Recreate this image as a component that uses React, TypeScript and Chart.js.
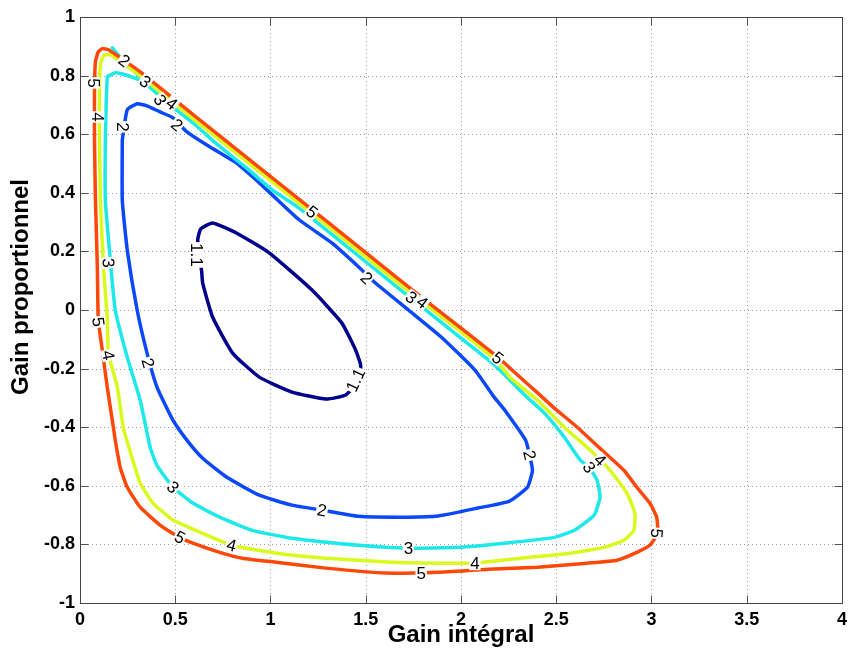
import React, { useEffect, useRef } from 'react';
import { Chart, registerables } from 'chart.js';

Chart.register(...registerables);

// ---------- axes ----------
const X_TICKS = [0, 0.5, 1, 1.5, 2, 2.5, 3, 3.5, 4];
const Y_TICKS = [-1, -0.8, -0.6, -0.4, -0.2, 0, 0.2, 0.4, 0.6, 0.8, 1];
const X_TITLE = 'Gain intégral';
const Y_TITLE = 'Gain proportionnel';

// ---------- contour levels ----------
const LEVELS = ['1.1', '2', '3', '4', '5'];

// level 1.1
const C11_X = [0.639, 0.618, 0.634, 0.696, 0.821, 0.993, 1.218, 1.374, 1.447, 1.473, 1.465, 1.395, 1.291, 1.113, 0.941, 0.801, 0.696, 0.644, 0.639];
const C11_Y = [0.130, 0.239, 0.277, 0.297, 0.263, 0.195, 0.068, -0.044, -0.137, -0.188, -0.239, -0.290, -0.304, -0.280, -0.229, -0.147, -0.024, 0.092, 0.130];

// level 2
const C2_X = [0.222, 0.248, 0.300, 0.352, 0.420, 0.488, 0.561, 0.681, 0.821, 0.941, 1.009, 1.150, 1.322, 1.463, 1.551, 1.724, 1.896, 2.073, 2.177, 2.229, 2.339, 2.360, 2.375, 2.349, 2.255, 2.088, 1.880, 1.724, 1.463, 1.270, 1.113, 0.941, 0.769, 0.644, 0.561, 0.488, 0.404, 0.352, 0.300, 0.248, 0.222, 0.222];
const C2_Y = [0.581, 0.683, 0.704, 0.697, 0.676, 0.656, 0.608, 0.557, 0.502, 0.434, 0.393, 0.308, 0.229, 0.147, 0.092, 0.000, -0.092, -0.205, -0.300, -0.341, -0.444, -0.495, -0.547, -0.605, -0.652, -0.676, -0.703, -0.707, -0.704, -0.683, -0.666, -0.632, -0.570, -0.506, -0.444, -0.376, -0.263, -0.147, 0.000, 0.205, 0.375, 0.581];

// level 3 (main loop and small spike at the top)
const C3_X = [0.143, 0.185, 0.237, 0.331, 0.472, 0.592, 0.717, 0.874, 1.009, 1.150, 1.358, 1.671, 2.000, 2.177, 2.334, 2.438, 2.542, 2.626, 2.673, 2.714, 2.730, 2.699, 2.595, 2.490, 2.229, 1.984, 1.724, 1.463, 1.113, 0.905, 0.733, 0.592, 0.488, 0.404, 0.368, 0.316, 0.248, 0.185, 0.159, 0.133, 0.133, 0.138, 0.143];
const C3_Y = [0.796, 0.810, 0.803, 0.779, 0.700, 0.639, 0.567, 0.485, 0.410, 0.348, 0.239, 0.075, -0.096, -0.188, -0.290, -0.352, -0.434, -0.512, -0.537, -0.581, -0.639, -0.700, -0.752, -0.776, -0.796, -0.810, -0.813, -0.803, -0.779, -0.752, -0.707, -0.659, -0.605, -0.530, -0.468, -0.308, -0.161, 0.000, 0.171, 0.376, 0.581, 0.717, 0.796];
const C3B_X = [0.169, 0.237, 0.331];
const C3B_Y = [0.895, 0.844, 0.786];

// level 4
const C4_X = [0.107, 0.102, 0.102, 0.107, 0.123, 0.159, 0.316, 0.628, 1.009, 1.358, 1.671, 2.000, 2.193, 2.261, 2.402, 2.542, 2.678, 2.782, 2.871, 2.913, 2.907, 2.855, 2.751, 2.574, 2.313, 2.073, 1.880, 1.635, 1.291, 1.030, 0.795, 0.628, 0.488, 0.383, 0.316, 0.253, 0.227, 0.196, 0.149, 0.143, 0.123, 0.107];
const C4_Y = [0.376, 0.581, 0.752, 0.837, 0.868, 0.871, 0.799, 0.635, 0.437, 0.256, 0.092, -0.075, -0.178, -0.232, -0.308, -0.400, -0.478, -0.547, -0.625, -0.694, -0.752, -0.786, -0.810, -0.830, -0.847, -0.864, -0.864, -0.861, -0.847, -0.830, -0.803, -0.758, -0.717, -0.659, -0.591, -0.461, -0.400, -0.263, -0.147, -0.024, 0.147, 0.376];

// level 5
const C5_X = [0.081, 0.076, 0.076, 0.081, 0.096, 0.117, 0.149, 0.316, 0.628, 1.009, 1.358, 1.671, 2.000, 2.193, 2.297, 2.402, 2.490, 2.610, 2.751, 2.855, 2.923, 2.991, 3.027, 3.032, 2.991, 2.923, 2.819, 2.662, 2.402, 2.141, 1.880, 1.604, 1.291, 1.030, 0.853, 0.733, 0.592, 0.524, 0.420, 0.316, 0.248, 0.211, 0.185, 0.175, 0.143, 0.117, 0.096, 0.091, 0.081];
const C5_Y = [0.376, 0.581, 0.752, 0.847, 0.881, 0.892, 0.888, 0.813, 0.649, 0.451, 0.270, 0.106, -0.062, -0.161, -0.222, -0.283, -0.335, -0.400, -0.485, -0.547, -0.605, -0.659, -0.707, -0.762, -0.803, -0.827, -0.854, -0.864, -0.878, -0.885, -0.895, -0.898, -0.881, -0.861, -0.847, -0.827, -0.796, -0.776, -0.734, -0.673, -0.605, -0.537, -0.444, -0.400, -0.263, -0.137, -0.034, 0.147, 0.376];

// ---------- inline contour labels ----------
const LABEL_TEXT = ['1.1', '1.1', '2', '2', '2', '2', '2', '2', '3', '3', '3', '3', '4', '5', '4', '5', '4', '5', '5', '4', '5', '4', '5', '5', '3', '4', '3', '3', '4', '2'];
const LABEL_X = [0.613, 1.447, 0.222, 0.509, 1.504, 2.360, 1.270, 0.357, 0.149, 0.488, 1.724, 2.673, 2.730, 3.027, 2.073, 1.791, 0.795, 0.524, 0.096, 0.149, 0.070, 0.091, 1.218, 2.193, 1.739, 1.797, 0.342, 0.420, 0.482, 0.232];
const LABEL_Y = [0.188, -0.239, 0.625, 0.632, 0.109, -0.495, -0.683, -0.181, 0.161, -0.605, -0.813, -0.537, -0.512, -0.762, -0.864, -0.898, -0.803, -0.776, -0.041, -0.154, 0.775, 0.659, 0.335, -0.164, 0.043, 0.026, 0.779, 0.717, 0.704, 0.851];
const LABEL_ANGLE = [90, -65, 90, 40, 43, 77, 10, 74, 84, 46, 0, 55, 45, 95, 0, 0, 15, 29, 82, 78, 90, 90, 38, 38, 38, 38, 38, 60, 38, 38];

// ---------- styles ----------
const COLORS: Record<string, string> = {
  '1.1': 'rgb(0,0,140)',
  '2': 'rgb(10,72,250)',
  '3': 'rgb(30,232,232)',
  '4': 'rgb(218,250,30)',
  '5': 'rgb(255,72,8)',
};
const FONT = "'Liberation Sans', Arial, Helvetica, sans-serif";

const pts = (xs: number[], ys: number[]) => xs.map((x, i) => ({ x, y: ys[i] }));
const fmt = (v: number) => String(Math.round(v * 10) / 10);

const matlabPlugin = {
  id: 'matlabDecor',
  beforeDatasetsDraw(chart: any) {
    const { ctx, chartArea: a, scales } = chart;
    const xs = scales.x, ys = scales.y;
    ctx.save();
    ctx.strokeStyle = '#9c9c9c';
    ctx.lineWidth = 1;
    ctx.setLineDash([1, 3]);
    X_TICKS.forEach((v) => {
      if (v <= X_TICKS[0] || v >= X_TICKS[X_TICKS.length - 1]) return;
      const px = Math.round(xs.getPixelForValue(v)) + 0.5;
      ctx.beginPath();
      ctx.moveTo(px, a.top);
      ctx.lineTo(px, a.bottom);
      ctx.stroke();
    });
    Y_TICKS.forEach((v) => {
      if (v <= Y_TICKS[0] || v >= Y_TICKS[Y_TICKS.length - 1]) return;
      const py = Math.round(ys.getPixelForValue(v)) + 0.5;
      ctx.beginPath();
      ctx.moveTo(a.left, py);
      ctx.lineTo(a.right, py);
      ctx.stroke();
    });
    ctx.restore();
  },
  afterDatasetsDraw(chart: any) {
    const { ctx, scales } = chart;
    ctx.save();
    ctx.font = `17px ${FONT}`;
    ctx.textAlign = 'center';
    ctx.textBaseline = 'middle';
    LABEL_TEXT.forEach((t, i) => {
      const px = scales.x.getPixelForValue(LABEL_X[i]);
      const py = scales.y.getPixelForValue(LABEL_Y[i]);
      ctx.save();
      ctx.translate(px, py);
      ctx.rotate((LABEL_ANGLE[i] * Math.PI) / 180);
      const w = ctx.measureText(t).width + 2;
      ctx.fillStyle = '#ffffff';
      ctx.fillRect(-w / 2, -7, w, 14);
      ctx.fillStyle = '#000000';
      ctx.fillText(t, 0, 1);
      ctx.restore();
    });
    ctx.restore();
  },
  afterDraw(chart: any) {
    const { ctx, chartArea: a, scales } = chart;
    const L = Math.round(a.left) + 0.5, R = Math.round(a.right) + 0.5;
    const T = Math.round(a.top) + 0.5, B = Math.round(a.bottom) + 0.5;
    ctx.save();
    // ticks (inside, all four sides)
    ctx.strokeStyle = '#555555';
    ctx.lineWidth = 1;
    const tl = 8;
    X_TICKS.forEach((v) => {
      const px = Math.round(scales.x.getPixelForValue(v)) + 0.5;
      ctx.beginPath();
      ctx.moveTo(px, B); ctx.lineTo(px, B - tl);
      ctx.moveTo(px, T); ctx.lineTo(px, T + tl);
      ctx.stroke();
    });
    Y_TICKS.forEach((v) => {
      const py = Math.round(scales.y.getPixelForValue(v)) + 0.5;
      ctx.beginPath();
      ctx.moveTo(L, py); ctx.lineTo(L + tl, py);
      ctx.moveTo(R, py); ctx.lineTo(R - tl, py);
      ctx.stroke();
    });
    // box
    ctx.strokeStyle = '#444444';
    ctx.strokeRect(L, T, R - L, B - T);
    // axis titles
    ctx.fillStyle = '#000000';
    ctx.font = `bold 24px ${FONT}`;
    ctx.textAlign = 'center';
    ctx.textBaseline = 'alphabetic';
    ctx.fillText(X_TITLE, (a.left + a.right) / 2, 642);
    ctx.translate(28, 287);
    ctx.rotate(-Math.PI / 2);
    ctx.fillText(Y_TITLE, 0, 0);
    ctx.restore();
  },
};

export default function App() {
  const ref = useRef<HTMLCanvasElement | null>(null);

  useEffect(() => {
    document.body.style.margin = '0';
    const canvas = ref.current;
    if (!canvas) return;

    const mk = (label: string, xs: number[], ys: number[], color: string) => ({
      label,
      data: pts(xs, ys),
      showLine: true,
      borderColor: color,
      backgroundColor: color,
      borderWidth: 3.5,
      pointRadius: 0,
      pointHoverRadius: 0,
      tension: 0.15,
      borderJoinStyle: 'round' as const,
      borderCapStyle: 'round' as const,
      fill: false,
    });

    const chart = new Chart(canvas, {
      type: 'scatter',
      data: {
        datasets: [
          mk(LEVELS[4], C5_X, C5_Y, COLORS['5']),
          mk(LEVELS[3], C4_X, C4_Y, COLORS['4']),
          mk(LEVELS[2], C3_X, C3_Y, COLORS['3']),
          mk(LEVELS[2] + 'b', C3B_X, C3B_Y, COLORS['3']),
          mk(LEVELS[1], C2_X, C2_Y, COLORS['2']),
          mk(LEVELS[0], C11_X, C11_Y, COLORS['1.1']),
        ],
      },
      options: {
        responsive: false,
        animation: false,
        devicePixelRatio: 1,
        layout: { padding: { left: 0, right: 6, top: 17, bottom: 0 } },
        plugins: {
          legend: { display: false },
          tooltip: { enabled: false },
        },
        scales: {
          x: {
            type: 'linear',
            min: X_TICKS[0],
            max: X_TICKS[X_TICKS.length - 1],
            afterBuildTicks: (s: any) => { s.ticks = X_TICKS.map((v) => ({ value: v })); },
            afterFit: (s: any) => { s.height = 50; },
            grid: { display: false, drawTicks: false },
            border: { display: false },
            ticks: {
              autoSkip: false,
              maxRotation: 0,
              padding: 6,
              color: '#000000',
              font: { family: FONT, size: 18, weight: 'bold' },
              callback: (v: any) => fmt(Number(v)),
            },
          },
          y: {
            type: 'linear',
            min: Y_TICKS[0],
            max: Y_TICKS[Y_TICKS.length - 1],
            afterBuildTicks: (s: any) => { s.ticks = Y_TICKS.map((v) => ({ value: v })); },
            afterFit: (s: any) => { s.width = 80; },
            grid: { display: false, drawTicks: false },
            border: { display: false },
            ticks: {
              autoSkip: false,
              padding: 5,
              color: '#000000',
              font: { family: FONT, size: 18, weight: 'bold' },
              callback: (v: any) => fmt(Number(v)),
            },
          },
        },
      },
      plugins: [matlabPlugin],
    });

    return () => chart.destroy();
  }, []);

  return (
    <div style={{ width: 853, height: 653, position: 'relative', background: '#ffffff' }}>
      <canvas ref={ref} width={853} height={653} style={{ display: 'block' }} />
    </div>
  );
}
